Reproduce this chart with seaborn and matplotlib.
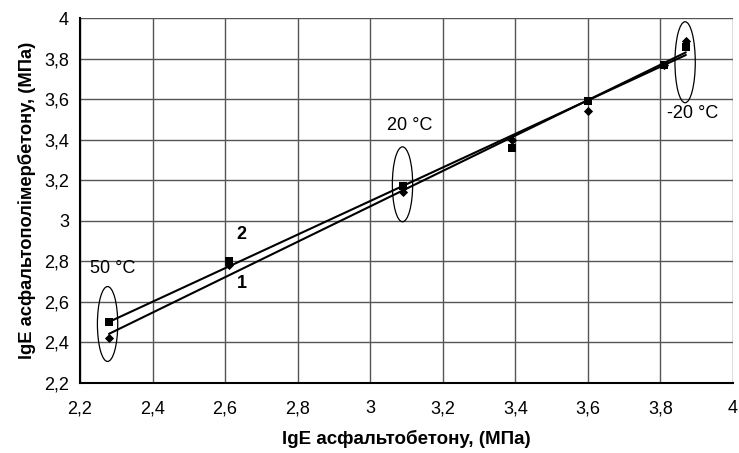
import numpy as np
import pandas as pd
import matplotlib
matplotlib.use("Agg")
import matplotlib.pyplot as plt
from matplotlib.patches import Ellipse
import seaborn as sns

# Data (lgE of asphalt concrete vs lgE of asphalt-polymer concrete)
x_vals = [2.28, 2.61, 3.09, 3.39, 3.60, 3.81, 3.87]
y_series2 = [2.50, 2.80, 3.17, 3.36, 3.59, 3.77, 3.86]   # squares, line "2"
y_series1 = [2.42, 2.78, 3.14, 3.40, 3.54, 3.77, 3.89]   # diamonds, line "1"

x_ticks = [2.2, 2.4, 2.6, 2.8, 3.0, 3.2, 3.4, 3.6, 3.8, 4.0]
y_ticks = [2.2, 2.4, 2.6, 2.8, 3.0, 3.2, 3.4, 3.6, 3.8, 4.0]
x_ticklabels = ["2,2", "2,4", "2,6", "2,8", "3", "3,2", "3,4", "3,6", "3,8", "4"]
y_ticklabels = ["2,2", "2,4", "2,6", "2,8", "3", "3,2", "3,4", "3,6", "3,8", "4"]

# Temperature groups (ellipse annotations)
temp_labels = ["50 °C", "20 °C", "-20 °C"]
temp_x = [2.276, 3.089, 3.868]
temp_y = [2.49, 3.18, 3.783]
temp_h = [0.37, 0.37, 0.40]

df = pd.DataFrame({"x": x_vals, "y1": y_series1, "y2": y_series2})

sns.set_style("white")
plt.rcParams["font.family"] = ["Liberation Sans", "DejaVu Sans"]
plt.rcParams["text.color"] = "black"
plt.rcParams["axes.labelcolor"] = "black"
plt.rcParams["xtick.color"] = "black"
plt.rcParams["ytick.color"] = "black"

fig = plt.figure(figsize=(7.39, 4.53), dpi=100)
ax = fig.add_axes([80 / 739, 1 - 382.7 / 453, (733 - 80) / 739, (382.7 - 18.3) / 453])

ax.set_xlim(2.2, 4.0)
ax.set_ylim(2.2, 4.0)
ax.set_xticks(x_ticks)
ax.set_yticks(y_ticks)
ax.set_xticklabels(x_ticklabels, fontsize=13)
ax.set_yticklabels(y_ticklabels, fontsize=13)
ax.grid(True, color="#555555", linewidth=1.0)
ax.set_axisbelow(True)

for s in ["top", "right"]:
    ax.spines[s].set_visible(False)
for s in ["left", "bottom"]:
    ax.spines[s].set_color("black")
    ax.spines[s].set_linewidth(1.5)
ax.tick_params(axis="x", direction="inout", length=7, width=1.2, color="black", pad=9)
ax.tick_params(axis="y", direction="out", length=5, width=1.2, color="black", pad=3)

# Trend lines
sns.regplot(data=df, x="x", y="y2", ax=ax, scatter=False, ci=None, truncate=True,
            line_kws=dict(color="black", lw=1.5))
sns.regplot(data=df, x="x", y="y1", ax=ax, scatter=False, ci=None, truncate=True,
            line_kws=dict(color="black", lw=1.5))

# Points
sns.scatterplot(data=df, x="x", y="y1", ax=ax, marker="D", s=22, color="black",
                edgecolor="black", linewidth=0, zorder=5)
sns.scatterplot(data=df, x="x", y="y2", ax=ax, marker="s", s=36, color="black",
                edgecolor="black", linewidth=0, zorder=6)

# Ellipses
for cx, cy, h in zip(temp_x, temp_y, temp_h):
    ax.add_patch(Ellipse((cx, cy), 0.056, h, fill=False, edgecolor="black", lw=0.9, zorder=7))

ax.text(2.29, 2.765, temp_labels[0], fontsize=13, ha="center", va="center")
ax.text(3.11, 3.47, temp_labels[1], fontsize=13, ha="center", va="center")
ax.text(3.89, 3.53, temp_labels[2], fontsize=13, ha="center", va="center")
ax.text(2.645, 2.93, "2", fontsize=13, fontweight="bold", ha="center", va="center")
ax.text(2.645, 2.69, "1", fontsize=13, fontweight="bold", ha="center", va="center")

ax.set_xlabel("lgE асфальтобетону, (МПа)", fontsize=13.5, fontweight="bold", labelpad=9)
ax.set_ylabel("lgE асфальтополімербетону, (МПа)", fontsize=13.2, fontweight="bold", labelpad=6)

fig.savefig("out.png", dpi=100)
